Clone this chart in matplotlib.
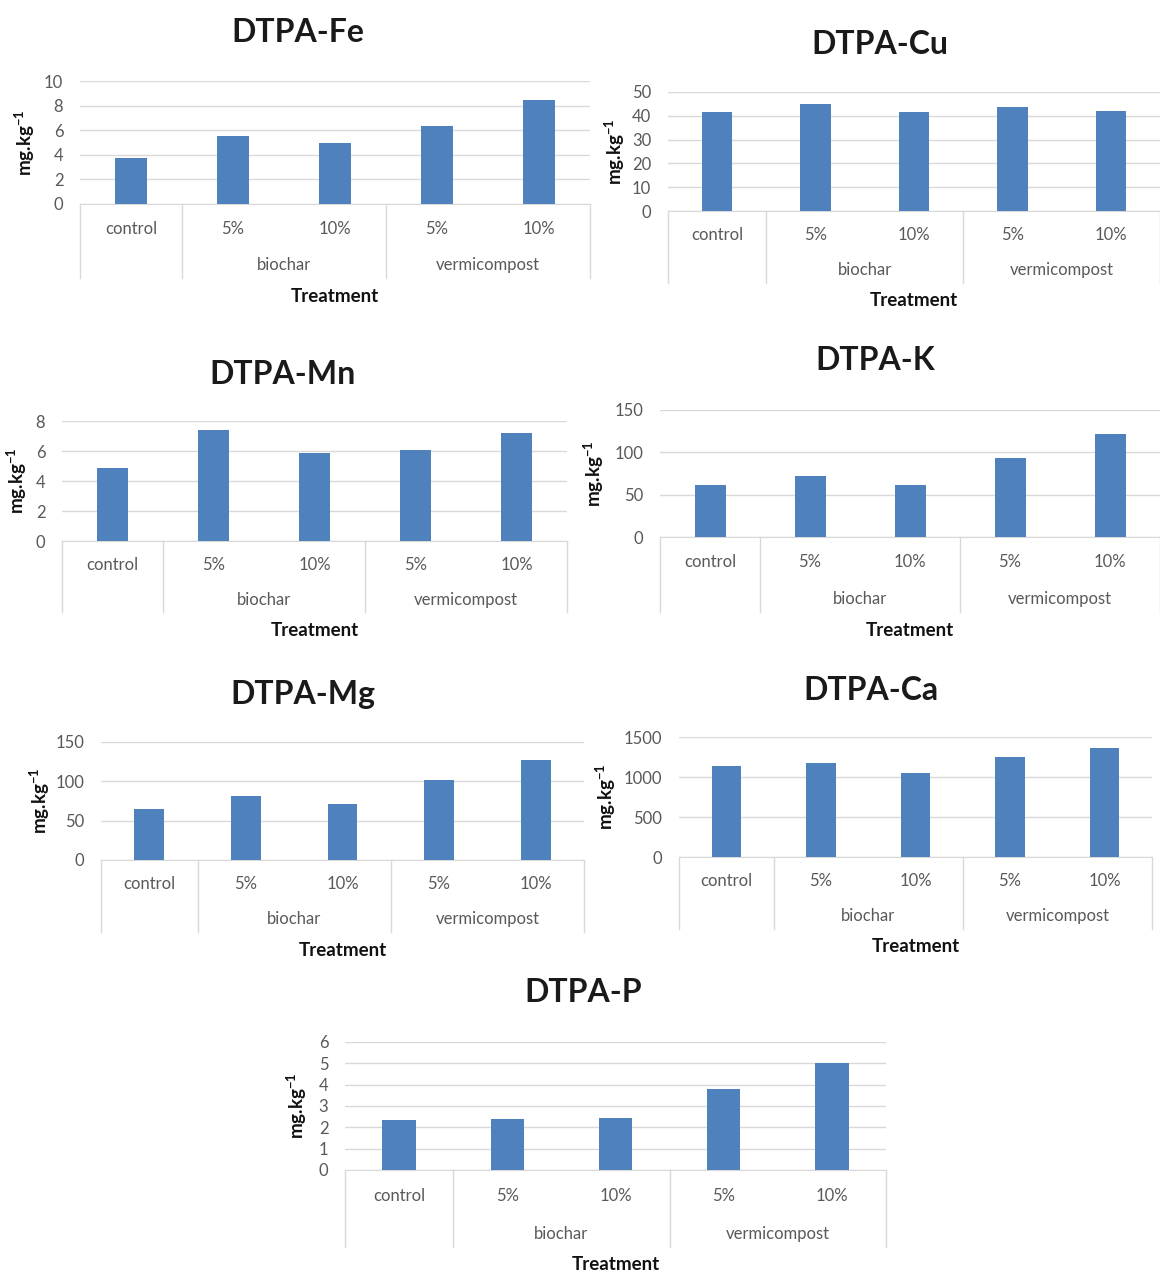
import matplotlib

matplotlib.use("Agg")
import matplotlib.pyplot as plt
import numpy as np
from matplotlib import transforms

# ---- data -------------------------------------------------------------
treatments = ["control", "5%", "10%", "5%", "10%"]
groups = ["biochar", "vermicompost"]

fe = [3.75, 5.55, 5.0, 6.35, 8.45]
cu = [41.5, 44.8, 41.4, 43.5, 41.9]
mn = [4.9, 7.4, 5.9, 6.1, 7.2]
k = [61, 72, 62, 93.5, 122]
mg = [65, 81, 71, 102, 127]
ca = [1140, 1178, 1044, 1253, 1362]
p = [2.35, 2.4, 2.45, 3.8, 5.0]

# ---- style ------------------------------------------------------------
W, H = 1160, 1273
BAR = "#4f81bd"
GRID = "#d9d9d9"
TXT = "#595959"
plt.rcParams["font.family"] = ["Lato", "DejaVu Sans"]
plt.rcParams["mathtext.fontset"] = "custom"
plt.rcParams["mathtext.rm"] = "Lato"
plt.rcParams["mathtext.bf"] = "Lato:bold"

# panel geometry in pixels: plot box (left, right, top gridline y, zero y),
# label offsets below zero, title position, y-label x
panels = [
    dict(name="DTPA-Fe", vals=fe, ymax=10, step=2, box=(80, 590, 81, 204),
         off=(25, 61, 74), title=(298, 33), ylab=25),
    dict(name="DTPA-Cu", vals=cu, ymax=50, step=10, box=(668, 1160, 92, 211),
         off=(24, 59, 72), title=(880, 45), ylab=615),
    dict(name="DTPA-Mn", vals=mn, ymax=8, step=2, box=(62, 567, 421, 541),
         off=(24, 59, 71), title=(283, 374), ylab=17),
    dict(name="DTPA-K", vals=k, ymax=150, step=50, box=(660, 1160, 410, 537),
         off=(25, 62, 75), title=(875, 360), ylab=594),
    dict(name="DTPA-Mg", vals=mg, ymax=150, step=50, box=(101, 584, 742, 860),
         off=(24, 59, 72), title=(303, 695), ylab=40),
    dict(name="DTPA-Ca", vals=ca, ymax=1500, step=500, box=(679, 1152, 737, 857),
         off=(24, 59, 72), title=(871, 690), ylab=606),
    dict(name="DTPA-P", vals=p, ymax=6, step=1, box=(345, 886, 1042, 1170),
         off=(26, 64, 77), title=(583, 992), ylab=297),
]

fig = plt.figure(figsize=(W / 100, H / 100), dpi=100)


def draw_panel(cfg):
    l, r, t, b = cfg["box"]
    ax = fig.add_axes([l / W, 1 - b / H, (r - l) / W, (b - t) / H])
    x = np.arange(len(treatments))
    ax.bar(x, cfg["vals"], width=0.31, color=BAR, zorder=3)
    ax.set_xlim(-0.5, len(treatments) - 0.5)
    ax.set_ylim(0, cfg["ymax"])
    ax.set_yticks(np.arange(0, cfg["ymax"] + cfg["step"] / 2, cfg["step"]))
    ax.yaxis.grid(True, color=GRID, linewidth=1)
    ax.set_axisbelow(True)
    for s in ("left", "right", "top"):
        ax.spines[s].set_visible(False)
    ax.spines["bottom"].set_color(GRID)
    ax.set_xticks([])
    ax.tick_params(axis="y", length=0, pad=12, labelsize=12, labelcolor=TXT)

    # multi-level category axis below the plot
    d1, d2, d3 = cfg["off"]
    trans = transforms.blended_transform_factory(ax.transData, ax.transAxes)
    px = 1.0 / (b - t)
    for xs in (-0.5, 0.5, 2.5, 4.5):
        ax.plot([xs, xs], [0, -d3 * px], color=GRID, lw=1, transform=trans,
                clip_on=False)
    for i, lab in enumerate(treatments):
        ax.text(i, -d1 * px, lab, transform=trans, ha="center", va="center",
                fontsize=12, color=TXT)
    for j, g in enumerate(groups):
        ax.text(1.5 + 2 * j, -d2 * px, g, transform=trans, ha="center",
                va="center", fontsize=12, color=TXT)
    ax.text(0.5, -(d3 + 18) * px, "Treatment", transform=ax.transAxes,
            ha="center", va="center", fontsize=13.5, fontweight="bold",
            color="#111111")

    # title and y label
    tx, ty = cfg["title"]
    fig.text(tx / W, 1 - ty / H, cfg["name"], ha="center", va="center",
             fontsize=23, fontweight="bold", color="#1a1a1a")
    fig.text(cfg["ylab"] / W, 1 - ((t + b) / 2) / H, r"mg.kg$^{\mathbf{-1}}$",
             rotation=90, ha="center", va="center", fontsize=13.5,
             fontweight="bold", color="#111111")


for cfg in panels:
    draw_panel(cfg)

fig.savefig("out.png", dpi=100)
plt.close(fig)
